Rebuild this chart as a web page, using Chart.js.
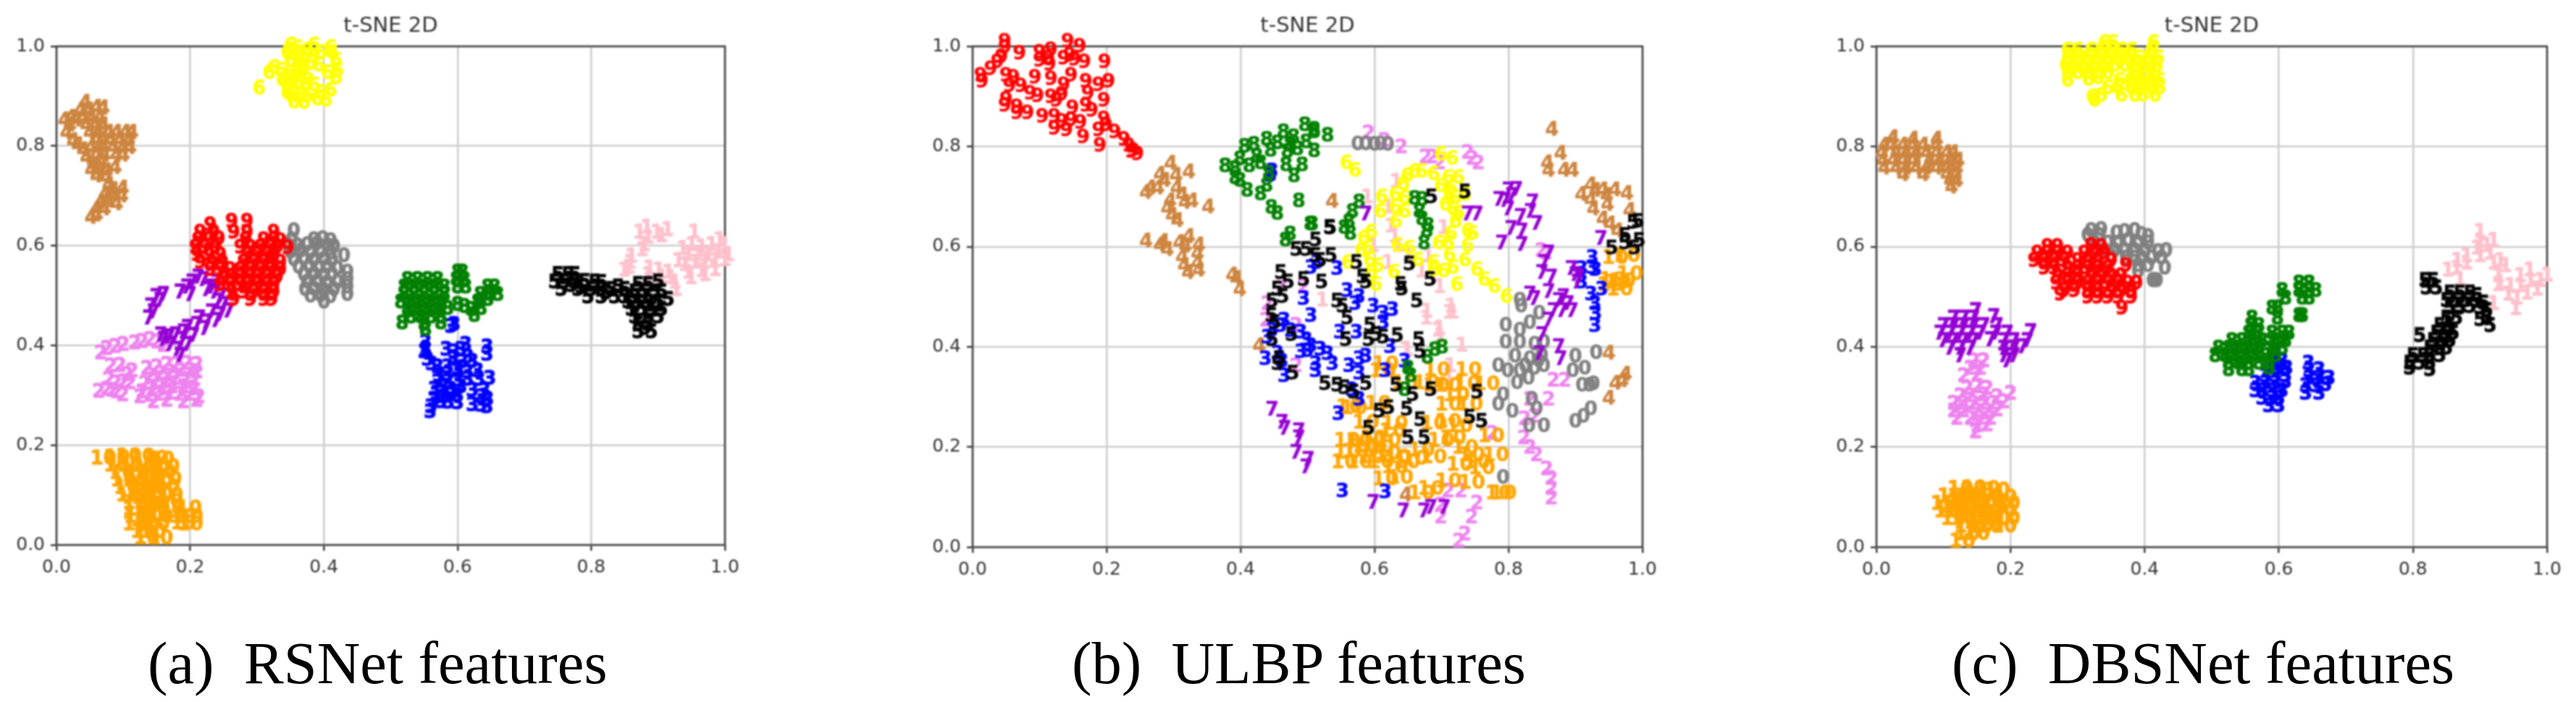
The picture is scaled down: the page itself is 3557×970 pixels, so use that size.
<!DOCTYPE html>
<html>
<head>
<meta charset="utf-8">
<script src="https://cdn.jsdelivr.net/npm/chart.js@4/dist/chart.umd.min.js"></script>
<style>
html, body { margin: 0; background: #fff; width: 3557px; height: 970px; overflow: hidden; }
canvas { position: absolute; top: 0; filter: blur(1px); }
.caption { position: absolute; top: 868px; font: 82.5px "Liberation Serif", serif; color: #000; white-space: pre; }
</style>
</head>
<body>
<div class="caption" style="left:204px">(a)  RSNet features</div>
<div class="caption" style="left:1480px">(b)  ULBP features</div>
<div class="caption" style="left:2695px">(c)  DBSNet features</div>
<script>
const labels = ['0', '1', '2', '3', '4', '5', '6', '7', '8', '9', '10'];
const colors = ['#808080', '#ffc0cb', '#ee82ee', '#0000ff', '#cd853f', '#000000', '#ffff00', '#9400d3', '#008000', '#ff0000', '#ffa500'];
const titleText = 't-SNE 2D';
const tickValues = ['0.0', '0.2', '0.4', '0.6', '0.8', '1.0'];

// values, flat x,y lists per class

// (a) RSNet
const rs0 = [.355,.628, .352,.61,.385,.61,.398,.612,.41,.608, .345,.6,.36,.598,.375,.6,.39,.602,.405,.598,.415,.596,
 .35,.585,.365,.587,.38,.584,.395,.586,.41,.583, .355,.57,.37,.572,.385,.569,.40,.571,.412,.568,.43,.578,
 .362,.555,.378,.556,.392,.553,.405,.555,.42,.552, .37,.54,.385,.541,.40,.538,.412,.54,.435,.545,
 .375,.525,.39,.526,.405,.523,.42,.525,.435,.53, .372,.51,.385,.511,.40,.508,.415,.51,.435,.515, .38,.497,.395,.498,.41,.496,.435,.5, .4,.485];
const rs1 = [.872,.625,.883,.635,.898,.625,.914,.63,.885,.615,.905,.618,.879,.6,.876,.59,.86,.577,.858,.565,.856,.555,.849,.549,
 .887,.553,.901,.549,.885,.54,.915,.545,.919,.534,.905,.535,.927,.51,.925,.525,
 .954,.625,.937,.592,.93,.568,.95,.6,.965,.595,.98,.6,.992,.61,.999,.6,.945,.58,.96,.58,.975,.58,.99,.585,1.005,.58,
 .94,.56,.955,.565,.97,.565,.985,.568,1.0,.57,1.01,.573,.949,.534,.945,.545,.965,.548,.985,.55,.97,.54];
const rs2 = [.066,.383,.075,.392,.088,.396,.1,.4,.117,.403,.128,.406,.14,.41,.16,.398,.15,.405,
 .081,.357,.095,.358,.113,.347,.105,.34,.088,.323,.1,.325,.11,.323,.078,.33,.063,.306,.075,.31,.084,.308,.099,.299,.09,.305,
 .135,.352,.15,.355,.165,.36,.18,.36,.195,.362,.21,.36,.14,.338,.155,.342,.17,.345,.185,.348,.2,.348,.21,.345,
 .132,.322,.148,.326,.163,.33,.178,.332,.193,.33,.207,.33,.128,.305,.143,.31,.158,.315,.173,.315,.19,.315,.205,.312,
 .125,.295,.14,.298,.155,.3,.17,.302,.185,.3,.2,.3,.213,.295,.145,.285,.165,.288,.19,.285,.21,.288];
const rs3 = [.59,.436,.595,.44,.552,.404,.552,.39,.55,.385,.555,.37,.561,.361,.57,.355,.644,.395,.644,.38,
 .612,.40,.605,.39,.583,.39,.595,.385,.615,.375,.593,.371,.607,.365,.622,.366,.585,.355,.6,.352,.572,.337,.585,.34,.6,.347,.615,.345,.63,.347,
 .57,.325,.585,.325,.6,.328,.615,.33,.632,.33,.648,.332,.565,.31,.575,.303,.59,.31,.605,.315,.622,.308,.64,.308,
 .565,.29,.58,.295,.6,.298,.635,.295,.645,.29,.56,.275,.575,.285,.586,.284,.6,.283,.622,.279,.635,.278,.644,.275,.559,.265,.59,.3,.578,.315];
const rs4 = [.012,.85,.02,.84,.015,.825,.022,.855,.03,.85,.043,.885,.036,.87,.048,.87,.06,.875,.07,.874,.04,.855,.052,.855,.065,.855,
 .045,.84,.058,.84,.07,.84,.05,.825,.063,.825,.078,.825,.09,.825,.103,.825,.113,.825,.025,.808,.032,.8,.06,.81,.07,.81,.082,.81,.095,.81,.108,.81,
 .04,.79,.052,.795,.065,.795,.085,.795,.1,.795,.11,.795,.045,.775,.06,.78,.072,.78,.09,.78,.1,.78,.055,.76,.068,.765,.088,.755,.052,.75,.065,.75,.075,.748,.06,.738,.075,.735,
 .078,.72,.099,.713,.085,.71,.072,.7,.084,.7,.098,.698,.066,.685,.078,.688,.09,.682,.06,.672,.072,.672,.052,.655,.06,.66];
const rs5 = [.75,.54,.765,.54,.775,.54,.745,.525,.76,.525,.775,.525,.79,.526,.805,.525,.815,.524,.755,.51,.78,.51,.80,.51,.815,.51,.83,.51,.85,.51,
 .795,.495,.815,.495,.835,.495,.85,.495,.865,.495,.885,.495,.87,.52,.885,.52,.9,.525,.865,.505,.88,.505,.895,.505,.905,.505,.77,.518,.785,.515,.84,.515,.822,.503,
 .855,.485,.87,.485,.885,.485,.90,.485,.915,.49,.86,.47,.875,.47,.89,.47,.905,.47,.865,.455,.885,.455,.90,.455,.87,.44,.885,.44,.87,.425,.89,.425,.88,.432];
const rs6 = [.303,.914,.318,.945,.325,.955,.335,.95,.338,.93,.348,.945,.35,.97,.345,.985,.35,1.0,.358,1.012,.36,.995,.365,.97,.36,.945,.355,.915,.35,.9,.355,.886,.37,.885,
 .375,.9,.385,.92,.375,.94,.38,.965,.375,.99,.385,1.0,.37,1.01,.395,.985,.392,.96,.405,.945,.395,.905,.39,.892,.403,.89,.41,.91,.418,.935,.42,.95,.418,.97,.412,.985,.41,.995,
 .362,.925,.372,.92,.345,.92,.35,.935,.36,.955,.368,.955,.382,.978,.362,.982,.345,.905,.365,.9];
const rs7 = [.141,.477,.149,.496,.138,.453,.145,.465,.155,.488,.16,.50,.203,.525,.212,.535,.195,.515,.185,.505,.2,.5,.22,.53,.232,.515,.246,.497,.24,.525,.225,.51,.237,.505,
 .242,.487,.257,.467,.25,.48,.239,.448,.245,.46,.232,.465,.214,.453,.225,.445,.196,.434,.21,.44,.178,.419,.19,.425,.156,.419,.168,.415,.196,.40,.205,.418,.181,.39,.17,.4,.16,.41,.188,.41,.222,.432,.185,.378];
const rs8 = [.6,.545,.607,.545,.525,.53,.54,.53,.555,.53,.57,.53,.598,.53,.61,.53,.52,.515,.535,.515,.55,.515,.565,.515,.58,.515,.6,.515,.612,.515,.645,.515,.655,.515,
 .52,.50,.535,.50,.55,.50,.565,.50,.58,.50,.634,.50,.648,.50,.66,.50,.515,.485,.53,.485,.545,.485,.56,.485,.575,.485,.60,.48,.63,.485,.645,.49,
 .525,.47,.54,.47,.555,.47,.57,.47,.585,.472,.61,.476,.62,.47,.635,.472,.53,.455,.545,.455,.56,.455,.575,.455,.625,.458,.517,.443,.55,.44,.575,.443,.552,.43];
const rs9 = [.23,.64,.262,.647,.285,.647,.265,.625,.285,.625,.215,.625,.235,.625,.325,.625,.212,.61,.228,.61,.243,.612,.283,.61,.31,.61,.325,.61,.335,.608,
 .208,.595,.222,.595,.238,.595,.275,.595,.29,.595,.305,.595,.32,.595,.33,.595,.346,.594,.21,.58,.228,.58,.245,.58,.285,.58,.30,.58,.315,.58,.325,.58,
 .215,.565,.232,.565,.248,.565,.28,.565,.295,.565,.31,.565,.32,.565,.335,.565,.23,.55,.245,.55,.26,.55,.275,.55,.29,.55,.305,.55,.32,.55,.335,.55,
 .25,.535,.262,.535,.275,.535,.29,.535,.30,.535,.315,.535,.33,.535,.245,.52,.26,.52,.275,.52,.285,.52,.30,.52,.315,.52,.325,.52,
 .262,.505,.28,.505,.295,.505,.31,.505,.325,.505,.265,.49,.29,.49,.31,.49,.322,.49];
const rs10 = [.07,.172,.09,.174,.108,.176,.128,.176,.148,.172,.157,.17,.09,.158,.11,.158,.13,.158,.15,.158,.165,.155,.098,.143,.12,.143,.14,.143,.16,.143,
 .1,.128,.118,.128,.138,.128,.155,.128,.168,.13,.105,.113,.125,.113,.145,.113,.165,.115,.108,.098,.125,.098,.14,.098,.155,.098,.17,.098,
 .118,.083,.135,.083,.15,.083,.17,.085,.118,.07,.132,.07,.15,.07,.172,.07,.198,.072,.12,.055,.14,.055,.155,.055,.175,.056,.19,.055,.2,.055,
 .118,.04,.135,.04,.15,.04,.19,.042,.2,.04,.13,.025,.145,.025,.135,.012,.155,.012];
const rs = [rs0, rs1, rs2, rs3, rs4, rs5, rs6, rs7, rs8, rs9, rs10];

// (b) ULBP
const ul0 = [.575,.803,.587,.803,.6,.802,.609,.803,.62,.802,.817,.491,.819,.479,.796,.441,.817,.431,.832,.446,.796,.407,.817,.407,.853,.407,.839,.403,.81,.379,.832,.374,.85,.38,
 .785,.36,.799,.35,.817,.35,.839,.355,.853,.36,.825,.36,.845,.37,.813,.326,.83,.335,.792,.302,.785,.283,.806,.269,.835,.293,.842,.274,.853,.24,.831,.24,.9,.379,.896,.35,.914,.355,.91,.321,.921,.321,
 .9,.249,.912,.259,.923,.274,.792,.137,.846,.465,.931,.386,.927,.324];
const ul1 = [.632,.728,.589,.697,.62,.677,.624,.639,.63,.619,.598,.6,.703,.636,.62,.566,.67,.549,.697,.518,.522,.491,.678,.469,.714,.479,.717,.467,.697,.435,.698,.42,.649,.392,.73,.401,.695,.431,.647,.393,.713,.36,.711,.34,.677,.455,.711,.467,.65,.58,.635,.6,.68,.58];
const ul2 = [.591,.825,.615,.81,.64,.797,.676,.777,.686,.777,.697,.765,.739,.786,.746,.774,.755,.765,.856,.585,.849,.59,.494,.518,.462,.522,.44,.484,.438,.451,.483,.441,.483,.36,.832,.293,.86,.293,.824,.254,.839,.259,.884,.331,.867,.331,.823,.216,.832,.197,.842,.182,.857,.154,.864,.135,.864,.096,.864,.115,.71,.11,.729,.11,.753,.086,.745,.058,.735,.024,.726,.01,.699,.058,.699,.082,.776,.225];
const ul3 = [.447,.749,.445,.74,.505,.556,.514,.566,.544,.554,.494,.494,.559,.51,.577,.498,.571,.484,.598,.479,.613,.465,.627,.472,.613,.446,.548,.427,.573,.427,.505,.46,.49,.427,.465,.451,.447,.431,.44,.417,.498,.412,.49,.388,.519,.393,.53,.384,.437,.374,.462,.369,.512,.364,.537,.364,.512,.35,.562,.36,.577,.374,.587,.379,.577,.345,.623,.398,.645,.369,.616,.35,.465,.34,.566,.312,.577,.293,.546,.264,.552,.11,.616,.108,.925,.576,.925,.556,.909,.554,.93,.552,.909,.527,.923,.503,.929,.484,.93,.464,.929,.44,.939,.513,.46,.44,.475,.43,.5,.39,.505,.4,.455,.385];
const ul4 = [.296,.764,.323,.747,.28,.742,.287,.73,.266,.715,.259,.706,.277,.715,.304,.74,.305,.715,.295,.689,.313,.701,.317,.686,.328,.689,.291,.674,.298,.66,.306,.65,.352,.677,.259,.609,.28,.601,.291,.592,.285,.608,.309,.606,.323,.618,.318,.599,.338,.601,.313,.577,.336,.584,.316,.56,.336,.565,.322,.546,.338,.551,.388,.541,.394,.534,.399,.512,
 .537,.688,.865,.832,.878,.784,.858,.765,.86,.75,.883,.75,.896,.75,.909,.702,.923,.721,.941,.711,.959,.711,.977,.704,.923,.691,.948,.682,.927,.673,.941,.653,.952,.643,.963,.629,.981,.67,.93,.71,.947,.7,.95,.385,.97,.33,.96,.325,.975,.343,.95,.295,.428,.40,.647,.102];
const ul5 = [.483,.592,.498,.592,.512,.611,.512,.58,.535,.58,.519,.57,.46,.546,.471,.527,.455,.513,.463,.498,.447,.489,.446,.46,.451,.446,.476,.422,.447,.412,.494,.532,.521,.527,.534,.635,.573,.566,.582,.537,.587,.527,.652,.563,.639,.522,.641,.513,.663,.489,.683,.532,.544,.489,.552,.479,.559,.455,.593,.441,.602,.422,.634,.42,.591,.412,.613,.417,.557,.412,.666,.412,.668,.388,.458,.374,.455,.364,.478,.345,.526,.324,.544,.321,.555,.316,.587,.324,.569,.307,.607,.269,.621,.276,.632,.321,.657,.302,.684,.312,.753,.307,.648,.273,.668,.252,.591,.235,.65,.216,.674,.216,.742,.257,.76,.249,.685,.697,.735,.707,.986,.646,.993,.648,.974,.62,.974,.605,.954,.595,.995,.61,1.008,.607,.988,.595,.533,.636];
const ul6 = [.558,.765,.571,.75,.699,.782,.716,.774,.649,.74,.66,.748,.67,.748,.688,.743,.643,.723,.631,.702,.611,.697,.71,.736,.725,.736,.699,.719,.714,.716,.735,.702,.706,.682,.717,.673,.631,.677,.609,.668,.632,.648,.645,.668,.595,.627,.584,.615,.58,.59,.56,.566,.593,.571,.595,.547,.602,.522,.634,.6,.652,.595,.665,.571,.721,.648,.714,.624,.71,.605,.739,.629,.746,.624,.739,.6,.712,.581,.688,.566,.688,.551,.717,.556,.703,.549,.735,.571,.753,.552,.764,.532,.779,.518,.797,.498,.629,.547,.723,.522,.696,.605,.72,.695,.712,.7,.645,.695,.725,.665,.59,.595,.605,.56];
const ul7 = [.447,.273,.462,.247,.466,.235,.487,.23,.487,.216,.483,.187,.501,.173,.498,.158,.598,.087,.643,.07,.674,.07,.684,.077,.704,.077,.86,.585,.853,.566,.85,.546,.864,.537,.9,.542,.903,.527,.832,.503,.839,.494,.86,.508,.882,.498,.889,.484,.867,.47,.86,.451,.85,.422,.875,.398,.878,.374,.846,.384,.8,.711,.786,.692,.836,.687,.8,.673,.818,.658,.833,.668,.842,.644,.804,.634,.82,.629,.79,.605,.82,.602,.739,.663,.753,.663,.587,.663,.938,.614,.894,.554,.905,.537,.805,.7,.812,.712,.795,.69,.875,.49,.895,.47,.88,.47];
const ul8 = [.377,.759,.392,.754,.406,.798,.399,.773,.42,.802,.439,.812,.464,.827,.479,.817,.496,.841,.51,.827,.392,.735,.399,.73,.41,.71,.43,.703,.439,.72,.442,.744,.424,.778,.413,.759,.43,.765,.474,.802,.485,.793,.498,.807,.47,.788,.468,.761,.492,.761,.48,.739,.487,.689,.446,.676,.455,.664,.507,.643,.474,.623,.467,.611,.53,.82,.51,.832,.51,.789,.577,.687,.567,.668,.562,.648,.555,.636,.564,.624,.504,.643,.66,.694,.671,.692,.671,.653,.678,.629,.674,.605,.667,.668,.68,.64,.701,.397,.69,.392,.679,.377,.65,.355,.654,.34,.645,.312,.445,.79,.455,.805];
const ul9 = [.048,1.008,.048,.996,.07,.984,.043,.977,.037,.967,.027,.953,.012,.94,.014,.928,.1,.986,.1,.97,.117,.991,.113,.974,.115,.962,.142,1.008,.16,.998,.145,.98,.136,.974,.152,.972,.167,.967,.197,.967,.093,.936,.117,.933,.147,.94,.136,.921,.169,.928,.188,.921,.203,.928,.061,.936,.05,.94,.055,.919,.072,.919,.086,.904,.097,.899,.05,.892,.048,.88,.066,.877,.066,.865,.082,.865,.104,.858,.122,.858,.117,.897,.133,.902,.125,.89,.172,.904,.196,.89,.169,.88,.178,.87,.149,.875,.147,.851,.161,.846,.133,.848,.122,.834,.14,.831,.165,.817,.196,.853,.199,.841,.188,.831,.212,.827,.19,.8,.226,.812,.233,.8,.24,.79,.246,.783,.237,.788];
const ul10 = [.616,.364,.612,.35,.693,.352,.74,.352,.677,.326,.71,.321,.738,.324,.767,.324,.569,.276,.562,.278,.605,.285,.645,.326,.71,.283,.742,.283,.722,.302,.692,.321,.587,.247,.63,.245,.688,.245,.71,.249,.727,.24,.774,.22,.717,.216,.559,.211,.577,.211,.598,.216,.62,.211,.627,.23,.559,.187,.587,.2,.609,.197,.555,.168,.577,.168,.609,.168,.634,.178,.63,.158,.616,.134,.638,.137,.648,.168,.67,.192,.688,.178,.699,.211,.735,.197,.745,.182,.753,.168,.781,.182,.727,.163,.76,.156,.745,.127,.71,.13,.684,.115,.67,.106,.785,.106,.792,.106,.959,.576,.977,.58,.952,.522,.963,.527,.981,.544,.966,.513,.955,.532,.97,.53,.572,.19,.595,.178,.66,.175,.62,.185];
const ul = [ul0, ul1, ul2, ul3, ul4, ul5, ul6, ul7, ul8, ul9, ul10];

// (c) DBSNet
const db0 = [.32,.63,.335,.632,.315,.62,.332,.62,.358,.625,.37,.628,.385,.63,.395,.622,.405,.618,.325,.605,.345,.605,.36,.605,.375,.61,.39,.605,.405,.605,.34,.59,.355,.59,.37,.59,.385,.59,.40,.59,.42,.588,.432,.59,.385,.575,.395,.575,.41,.575,.425,.575,.39,.56,.405,.56,.43,.555,.39,.548,.412,.53,.415,.53,.418,.53,.35,.578,.372,.575];
const db1 = [.9,.628,.9,.61,.895,.595,.91,.6,.92,.61,.866,.57,.88,.58,.9,.58,.915,.585,.852,.551,.865,.555,.88,.565,.87,.532,.92,.565,.93,.57,.938,.56,.927,.54,.93,.525,.927,.522,.942,.503,.945,.52,.96,.52,.96,.54,.974,.551,.975,.53,.985,.513,.97,.505,.953,.474,.955,.495,1.0,.541,.99,.53,.92,.484];
const db2 = [.145,.37,.16,.37,.14,.355,.155,.355,.13,.34,.15,.342,.135,.315,.15,.318,.165,.315,.125,.3,.14,.3,.16,.302,.18,.298,.2,.305,.115,.285,.13,.285,.145,.285,.16,.285,.175,.285,.19,.288,.115,.27,.13,.27,.15,.27,.165,.27,.18,.272,.12,.255,.14,.255,.155,.255,.17,.255,.15,.24,.165,.242,.148,.228];
const db3 = [.595,.385,.592,.37,.605,.37,.585,.355,.6,.355,.612,.355,.58,.34,.595,.34,.61,.34,.565,.325,.58,.325,.595,.325,.61,.328,.565,.31,.575,.31,.59,.31,.605,.31,.575,.295,.59,.295,.6,.295,.585,.28,.6,.28,.644,.365,.645,.35,.66,.352,.645,.335,.66,.335,.675,.335,.64,.32,.655,.32,.67,.322,.64,.305,.66,.305];
const db4 = [.025,.815,.055,.812,.09,.812,.012,.80,.022,.80,.04,.80,.055,.80,.07,.80,.09,.80,.008,.785,.03,.785,.045,.785,.06,.785,.075,.785,.09,.785,.105,.785,.115,.785,.01,.77,.025,.77,.04,.77,.055,.77,.08,.77,.095,.77,.11,.77,.122,.77,.012,.755,.03,.755,.045,.755,.06,.755,.075,.755,.09,.755,.105,.755,.12,.755,.04,.742,.07,.742,.105,.742,.118,.742,.11,.73,.12,.73,.112,.717];
const db5 = [.818,.53,.83,.53,.82,.515,.835,.515,.855,.505,.87,.505,.885,.505,.895,.5,.85,.49,.865,.49,.88,.49,.895,.49,.905,.485,.855,.475,.87,.475,.885,.478,.90,.475,.91,.47,.85,.455,.865,.455,.91,.455,.915,.44,.84,.44,.855,.44,.90,.452,.835,.425,.85,.425,.86,.425,.83,.41,.845,.41,.855,.41,.825,.395,.84,.395,.85,.395,.80,.38,.815,.38,.825,.38,.84,.38,.795,.365,.81,.365,.825,.365,.795,.355,.825,.352,.81,.42];
const db6 = [.34,1.005,.352,1.005,.388,1.012,.413,1.005,.285,.99,.30,.99,.32,.99,.335,.99,.35,.99,.365,.99,.38,.99,.41,.99,.285,.975,.30,.975,.315,.975,.33,.975,.345,.975,.36,.975,.375,.975,.39,.975,.405,.975,.42,.975,.282,.96,.295,.96,.31,.96,.325,.96,.34,.96,.355,.96,.37,.96,.385,.96,.40,.96,.418,.96,.285,.945,.30,.945,.315,.945,.33,.945,.345,.945,.385,.945,.40,.945,.415,.945,.285,.93,.316,.932,.33,.935,.362,.93,.378,.93,.392,.93,.408,.93,.422,.93,.345,.915,.36,.915,.38,.915,.395,.915,.41,.915,.422,.915,.322,.897,.335,.9,.365,.9,.385,.9,.397,.9,.415,.9,.325,.89];
const db7 = [.148,.47,.115,.455,.13,.455,.145,.455,.175,.458,.1,.44,.115,.44,.13,.44,.145,.44,.16,.44,.18,.44,.095,.425,.11,.425,.125,.425,.14,.425,.155,.425,.178,.425,.195,.425,.1,.41,.115,.41,.13,.41,.145,.41,.17,.412,.19,.41,.205,.41,.225,.41,.11,.395,.125,.395,.14,.395,.19,.395,.205,.395,.218,.398,.125,.38,.19,.38,.205,.38,.195,.37,.23,.428];
const db8 = [.63,.525,.645,.525,.605,.51,.63,.51,.645,.51,.655,.51,.61,.495,.635,.495,.645,.495,.59,.475,.598,.475,.63,.46,.635,.46,.56,.455,.598,.455,.558,.44,.57,.44,.555,.425,.568,.425,.59,.425,.605,.425,.615,.425,.53,.41,.545,.41,.56,.41,.575,.41,.595,.41,.61,.41,.51,.395,.525,.395,.54,.395,.555,.395,.57,.395,.59,.395,.605,.395,.505,.38,.52,.38,.535,.38,.55,.38,.565,.38,.58,.38,.595,.38,.525,.365,.54,.365,.555,.365,.57,.365,.585,.365,.525,.352,.545,.352,.555,.352,.585,.355];
const db9 = [.255,.598,.27,.598,.32,.6,.335,.598,.24,.585,.255,.585,.27,.585,.285,.585,.31,.585,.325,.585,.34,.585,.235,.57,.25,.57,.265,.57,.28,.57,.30,.57,.315,.57,.33,.57,.35,.57,.25,.555,.265,.555,.285,.555,.30,.555,.315,.555,.33,.555,.345,.555,.372,.56,.27,.54,.285,.54,.30,.54,.32,.54,.335,.54,.35,.54,.365,.54,.268,.525,.285,.525,.30,.525,.315,.525,.33,.525,.345,.525,.36,.525,.375,.525,.388,.525,.28,.51,.295,.51,.315,.51,.33,.51,.35,.51,.365,.51,.38,.51,.274,.503,.315,.497,.33,.497,.345,.497,.36,.497,.38,.497,.366,.475];
const db10 = [.125,.115,.145,.116,.165,.115,.18,.112,.11,.1,.125,.1,.14,.1,.155,.1,.17,.1,.19,.098,.10,.085,.115,.085,.13,.085,.145,.085,.16,.085,.175,.085,.195,.085,.105,.07,.12,.07,.14,.07,.155,.07,.17,.07,.19,.07,.115,.055,.13,.055,.15,.055,.165,.055,.18,.055,.195,.055,.135,.04,.155,.04,.17,.04,.19,.04,.135,.025,.15,.025,.128,.01];
const db = [db0, db1, db2, db3, db4, db5, db6, db7, db8, db9, db10];

// first dataset is painted last, so this is top to bottom
const paintOrder = [5, 9, 7, 8, 3, 6, 10, 4, 0, 2, 1];

function toPoints(flat) {
    const out = [];
    for (let i = 0; i < flat.length; i += 2) out.push({ x: flat[i], y: flat[i + 1] });
    return out;
}

// digit marker, same bold text call as the original plot
function marker(label, color, size, heavy) {
    const c = document.createElement('canvas');
    const w = Math.ceil(size * label.length * 0.8) + 6;
    const h = Math.ceil(size * 1.3);
    c.width = w;
    c.height = h;
    const g = c.getContext('2d');
    g.font = 'bold ' + size + 'px "DejaVu Sans"';
    g.fillStyle = color;
    g.strokeStyle = color;
    g.lineWidth = heavy;
    g.textAlign = 'center';
    g.textBaseline = 'middle';
    g.fillText(label, w / 2, h / 2);
    g.strokeText(label, w / 2, h / 2);
    return c;
}

const frame = {
    id: 'frame',
    beforeDatasetsDraw(chart) {
        const a = chart.chartArea;
        const g = chart.ctx;
        g.save();
        g.strokeStyle = '#444';
        g.lineWidth = 2.6;
        g.strokeRect(a.left, a.top, a.right - a.left, a.bottom - a.top);
        g.restore();
    }
};

function axis() {
    return {
        type: 'linear',
        min: 0,
        max: 1,
        ticks: {
            stepSize: 0.2,
            autoSkip: false,
            maxRotation: 0,
            padding: 8,
            color: '#333',
            font: { family: 'DejaVu Sans', size: 25 },
            callback: (v, i) => tickValues[i]
        },
        grid: { color: '#cdcdcd', lineWidth: 2.6, tickLength: 8, tickColor: '#333', tickWidth: 2.4 },
        border: { display: false }
    };
}

function drawPanel(sets, left, right, bottom, fontSize, heavy) {
    const c = document.createElement('canvas');
    const plotW = right - left;
    c.width = plotW + 150;
    c.height = bottom + 62;
    c.style.left = (left - 80) + 'px';
    document.body.appendChild(c);

    const x = axis();
    x.afterFit = s => { s.height = 62; };
    const y = axis();
    y.afterFit = s => { s.width = 80; };

    new Chart(c, {
        type: 'scatter',
        data: {
            datasets: paintOrder.map(k => ({
                label: labels[k],
                data: toPoints(sets[k]),
                pointStyle: marker(labels[k], colors[k], fontSize, heavy),
                pointRadius: 5,
                clip: false
            }))
        },
        options: {
            responsive: false,
            animation: false,
            devicePixelRatio: 1,
            layout: { padding: { left: 0, right: 70, top: 0, bottom: 0 } },
            plugins: {
                legend: { display: false },
                tooltip: { enabled: false },
                title: {
                    display: true,
                    text: titleText,
                    fullSize: false,
                    color: '#333',
                    font: { family: 'DejaVu Sans', size: 29, weight: 'normal', lineHeight: 1.2 },
                    padding: { top: 19, bottom: 10.2 }
                }
            },
            scales: { x: x, y: y }
        },
        plugins: [frame]
    });
}

drawPanel(rs, 78, 1001, 753, 26, 1);
drawPanel(ul, 1343, 2268, 756, 27, 0.4);
drawPanel(db, 2591, 3517, 756, 26, 1);
</script>
</body>
</html>
